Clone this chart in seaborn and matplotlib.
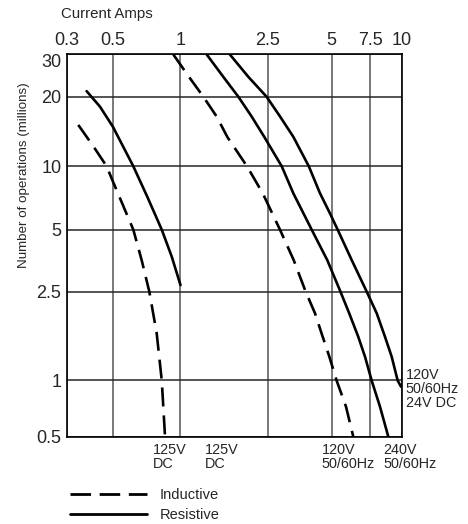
import numpy as np
import pandas as pd
import seaborn as sns
import matplotlib.pyplot as plt
from matplotlib.lines import Line2D
from matplotlib.ticker import NullLocator

# axis ticks
x_ticks = [0.3, 0.5, 1, 2.5, 5, 7.5, 10]
x_labels = ['0.3', '0.5', '1', '2.5', '5', '7.5', '10']
y_ticks = [0.5, 1, 2.5, 5, 10, 20, 30]
y_labels = ['0.5', '1', '2.5', '5', '10', '20', '30']

# curves: current (amps) vs number of operations (millions)
dc_res_amps = [0.373, 0.433, 0.5, 0.616, 0.711, 0.825, 0.914, 1.0]
dc_res_ops = [21.1, 18.1, 14.8, 10, 7.17, 5, 3.7, 2.69]
dc_ind_amps = [0.34, 0.402, 0.466, 0.5, 0.616, 0.671, 0.726, 0.783, 0.825, 0.853]
dc_ind_ops = [15.1, 12.2, 10, 8.45, 5, 3.56, 2.5, 1.63, 1, 0.5]
ac120_ind_amps = [0.929, 1.093, 1.271, 1.463, 1.635, 2.011, 2.372, 2.855,
                  3.311, 3.77, 4.17, 4.53, 4.87, 5.26, 5.81, 6.27]
ac120_ind_ops = [30, 24.2, 20, 16.4, 13.4, 10, 7.45, 5,
                 3.56, 2.5, 2.0, 1.571, 1.278, 1, 0.723, 0.5]
ac120_res_amps = [1.317, 1.568, 1.836, 2.113, 2.412, 2.91, 3.297, 4.023,
                  4.76, 5.48, 6.01, 6.61, 7.1, 7.6, 8.2, 8.84]
ac120_res_ops = [30, 24.2, 20, 16.4, 13.4, 10, 7.45, 5,
                 3.56, 2.5, 2.0, 1.571, 1.278, 1, 0.723, 0.5]
ac240_res_amps = [1.68, 2.04, 2.47, 2.86, 3.3, 3.9, 4.4, 4.9, 5.32, 6.17,
                  7.23, 7.96, 8.58, 9.12, 9.63, 9.93]
ac240_res_ops = [30, 24.2, 20, 16.4, 13.4, 10, 7.45, 5.98, 5, 3.56,
                 2.5, 2.0, 1.571, 1.278, 1, 0.926]

curves = [
    ('125V DC ind', 'Inductive', dc_ind_amps, dc_ind_ops),
    ('125V DC res', 'Resistive', dc_res_amps, dc_res_ops),
    ('120V AC ind', 'Inductive', ac120_ind_amps, ac120_ind_ops),
    ('120V AC res', 'Resistive', ac120_res_amps, ac120_res_ops),
    ('240V AC res', 'Resistive', ac240_res_amps, ac240_res_ops),
]
rows = []
for name, load, amps, ops in curves:
    for a, o in zip(amps, ops):
        rows.append({'curve': name, 'load': load, 'amps': a, 'ops': o})
df = pd.DataFrame(rows)

# the printed chart grid is only roughly logarithmic: calibrate scale on grid lines
x_grid_px = [67, 113, 180.5, 267.7, 331.8, 370.2, 401.8]
y_grid_px = [436.5, 380.5, 291.7, 229.7, 166.3, 96.7, 54.5]


def grid_scale(ticks, pix):
    lt = np.log10(ticks)
    p = np.asarray(pix, float)
    s0 = (p[1] - p[0]) / (lt[1] - lt[0])
    s1 = (p[-1] - p[-2]) / (lt[-1] - lt[-2])

    def fwd(v):
        lv = np.log10(np.clip(np.asarray(v, float), 1e-9, None))
        out = np.interp(lv, lt, p)
        out = np.where(lv < lt[0], p[0] + (lv - lt[0]) * s0, out)
        out = np.where(lv > lt[-1], p[-1] + (lv - lt[-1]) * s1, out)
        return out

    def inv(q):
        q = np.asarray(q, float)
        lv = np.interp(q, p, lt)
        lv = np.where(q < p[0], lt[0] + (q - p[0]) / s0, lv)
        lv = np.where(q > p[-1], lt[-1] + (q - p[-1]) / s1, lv)
        return 10 ** lv

    return fwd, inv


sns.set_style('white')
plt.rcParams['font.family'] = ['Liberation Sans', 'DejaVu Sans']

fig = plt.figure(figsize=(4.68, 5.24), dpi=100)
W, H = 468, 524
ax = fig.add_axes([67 / W, 1 - 436.5 / H, (401.8 - 67) / W, (436.5 - 54.5) / H])

ax.set_xscale('function', functions=grid_scale(x_ticks, x_grid_px))
ax.set_yscale('function', functions=grid_scale(y_ticks, [-v for v in y_grid_px]))
ax.set_xlim(0.3, 10)
ax.set_ylim(0.5, 30)

sns.lineplot(data=df, x='amps', y='ops', units='curve', style='load',
             estimator=None, sort=False, color='black', lw=1.9,
             dashes={'Resistive': '', 'Inductive': (7.2, 3.4)},
             legend=False, ax=ax)

ax.set_xticks(x_ticks, x_labels, fontsize=13)
ax.set_yticks(y_ticks, y_labels, fontsize=13)
ax.xaxis.set_minor_locator(NullLocator())
ax.yaxis.set_minor_locator(NullLocator())
ax.xaxis.tick_top()
ax.tick_params(length=0, pad=4)
ax.get_yticklabels()[-1].set_va('top')
ax.set_xlabel('')
ax.set_ylabel('')
ax.xaxis.grid(True, color='#555555', lw=1.1)
ax.yaxis.grid(True, color='#262626', lw=1.1)
for sp in ax.spines.values():
    sp.set_visible(True)
    sp.set_color('black')
    sp.set_linewidth(1.2)


def ftext(px, py, s, size=10.4):
    fig.text(px / W, 1 - py / H, s, fontsize=size, va='top', linespacing=1.0)


fig.text(24 / W, 1 - 175 / H, 'Number of operations (millions)', fontsize=9.6,
         rotation=90, ha='center', va='center')
ftext(61, 7, 'Current Amps', size=10.8)
ftext(152.5, 443, '125V\nDC')
ftext(205, 443, '125V\nDC')
ftext(321.5, 443, '120V\n50/60Hz')
ftext(383, 443, '240V\n50/60Hz')
ftext(405.5, 368, '120V\n50/60Hz\n24V DC')

# legend drawn below the chart
fig.add_artist(Line2D([70 / W, 147 / W], [1 - 494 / H] * 2, color='black',
                      lw=2.0, dashes=(7.4, 3.1)))
fig.add_artist(Line2D([70 / W, 147 / W], [1 - 514 / H] * 2, color='black', lw=2.0))
fig.text(160 / W, 1 - 495 / H, 'Inductive', fontsize=10.5, va='center')
fig.text(160 / W, 1 - 515 / H, 'Resistive', fontsize=10.5, va='center')

fig.savefig('out.png', dpi=100)
